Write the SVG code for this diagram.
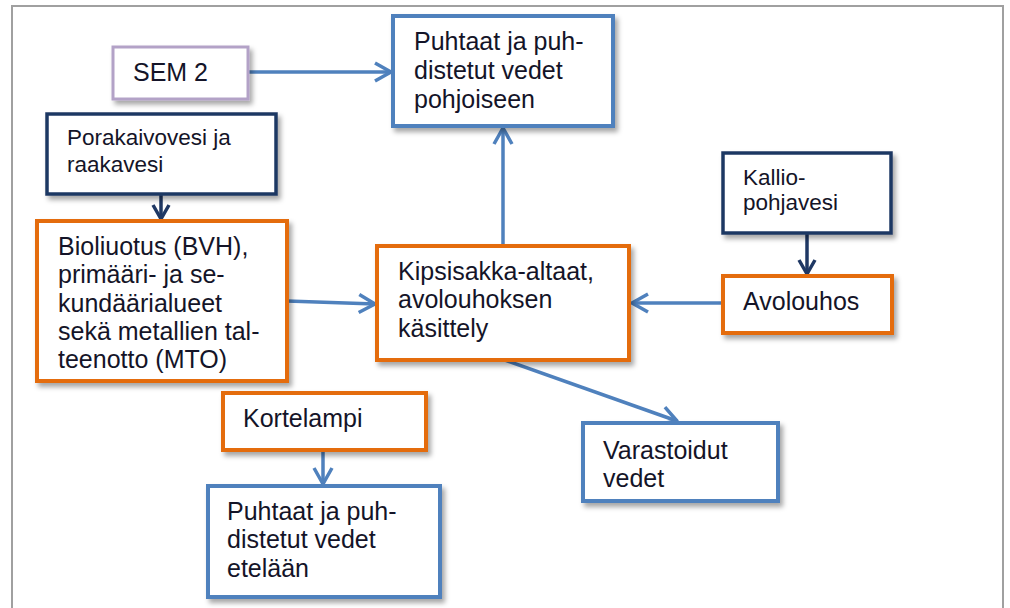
<svg xmlns="http://www.w3.org/2000/svg" width="1010" height="608" viewBox="0 0 1010 608">
<style>
  .box{fill:#fff;filter:url(#sh)}
  .blue{stroke:#4f81bd;stroke-width:4}
  .orange{stroke:#e46c0a;stroke-width:4}
  .navy{stroke:#1f3864;stroke-width:3.5}
  .purple{stroke:#b3a2c7;stroke-width:3}
  text{font-family:"Liberation Sans",Arial,sans-serif;fill:#141428}
  .t{font-size:25px}
  .s{font-size:22.5px}
  .c{fill:none;stroke-width:3.5}
  .cb{stroke:#4f81bd}
  .cn{stroke:#1f3864}
</style>
<defs>
  <filter id="sh" x="-10%" y="-10%" width="130%" height="140%">
    <feDropShadow dx="3" dy="4" stdDeviation="2.5" flood-color="#000" flood-opacity="0.35"/>
  </filter>
  <marker id="ab" markerUnits="userSpaceOnUse" markerWidth="24" markerHeight="24" viewBox="0 0 24 24" refX="19" refY="12" orient="auto">
    <path d="M3,3 L19,12 L3,21" fill="none" stroke="#4f81bd" stroke-width="3.5" stroke-linejoin="round"/>
  </marker>
  <marker id="an" markerUnits="userSpaceOnUse" markerWidth="24" markerHeight="24" viewBox="0 0 24 24" refX="19" refY="12" orient="auto">
    <path d="M5,4 L19,12 L5,20" fill="none" stroke="#1f3864" stroke-width="3.5" stroke-linejoin="round"/>
  </marker>
</defs>
<rect width="1010" height="608" fill="#fff"/>
<rect x="12" y="6" width="991" height="640" fill="none" stroke="#a0a0a0" stroke-width="2"/>

<g id="connectors">
  <line class="c cb" x1="248" y1="72" x2="391" y2="72" marker-end="url(#ab)"/>
  <line class="c cb" x1="503" y1="245" x2="503" y2="128" marker-end="url(#ab)"/>
  <line class="c cn" x1="161" y1="194" x2="161" y2="219" marker-end="url(#an)"/>
  <line class="c cb" x1="287" y1="301" x2="375" y2="304" marker-end="url(#ab)"/>
  <line class="c cb" x1="723" y1="303" x2="632" y2="303" marker-end="url(#ab)"/>
  <line class="c cn" x1="807" y1="233" x2="807" y2="274" marker-end="url(#an)"/>
  <line class="c cb" x1="505" y1="360" x2="677" y2="421" marker-end="url(#ab)"/>
  <line class="c cb" x1="323" y1="450" x2="323" y2="484" marker-end="url(#ab)"/>
</g>

<g id="sem2">
  <rect class="box purple" x="113" y="47" width="135" height="52"/>
  <text class="t" x="133" y="81">SEM 2</text>
</g>
<g id="puhtaat-pohjoiseen">
  <rect class="box blue" x="393" y="16" width="220" height="110"/>
  <text class="t" x="414" y="50">Puhtaat ja puh-</text>
  <text class="t" x="414" y="79">distetut vedet</text>
  <text class="t" x="414" y="108">pohjoiseen</text>
</g>
<g id="porakaivovesi">
  <rect class="box navy" x="47" y="114" width="229" height="80"/>
  <text class="s" x="67" y="145">Porakaivovesi ja</text>
  <text class="s" x="67" y="172">raakavesi</text>
</g>
<g id="kalliopohjavesi">
  <rect class="box navy" x="723" y="153" width="168" height="80"/>
  <text class="s" x="743" y="185">Kallio-</text>
  <text class="s" x="743" y="210">pohjavesi</text>
</g>
<g id="bioliuotus">
  <rect class="box orange" x="37" y="221" width="250" height="160"/>
  <text class="t" x="58" y="255">Bioliuotus (BVH),</text>
  <text class="t" x="58" y="283">primääri- ja se-</text>
  <text class="t" x="58" y="312">kundäärialueet</text>
  <text class="t" x="58" y="340">sekä metallien tal-</text>
  <text class="t" x="58" y="368">teenotto (MTO)</text>
</g>
<g id="kipsisakka">
  <rect class="box orange" x="377" y="246" width="252" height="114"/>
  <text class="t" x="398" y="280">Kipsisakka-altaat,</text>
  <text class="t" x="398" y="308">avolouhoksen</text>
  <text class="t" x="398" y="337">käsittely</text>
</g>
<g id="avolouhos">
  <rect class="box orange" x="723" y="276" width="169" height="57"/>
  <text class="t" x="743" y="310">Avolouhos</text>
</g>
<g id="kortelampi">
  <rect class="box orange" x="223" y="393" width="203" height="57"/>
  <text class="t" x="243" y="427">Kortelampi</text>
</g>
<g id="varastoidut">
  <rect class="box blue" x="583" y="423" width="195" height="78"/>
  <text class="t" x="603" y="459">Varastoidut</text>
  <text class="t" x="603" y="487">vedet</text>
</g>
<g id="puhtaat-etelaan">
  <rect class="box blue" x="208" y="486" width="232" height="111"/>
  <text class="t" x="227" y="520">Puhtaat ja puh-</text>
  <text class="t" x="227" y="548">distetut vedet</text>
  <text class="t" x="227" y="577">etelään</text>
</g>
</svg>
